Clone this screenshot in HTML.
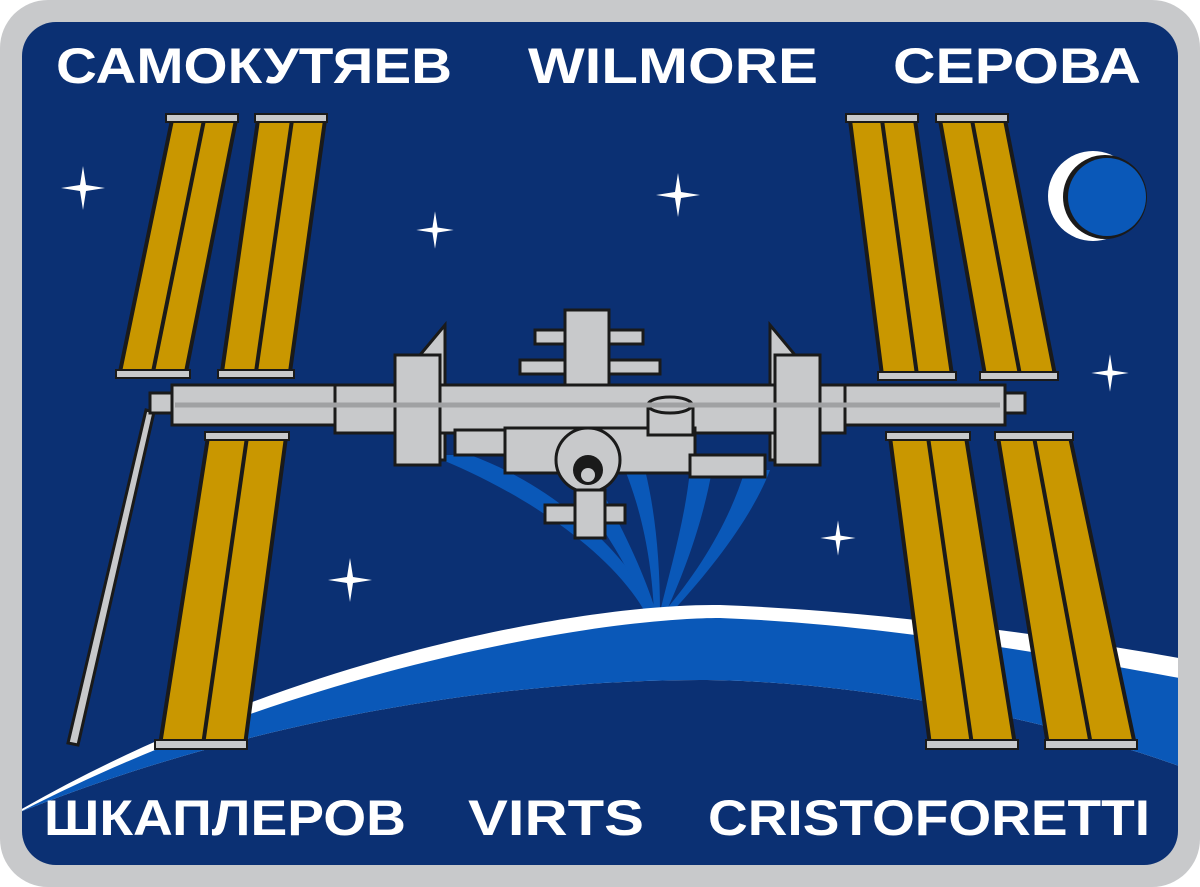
<!DOCTYPE html>
<html><head><meta charset="utf-8"><style>
html,body{margin:0;padding:0;background:#fff}
svg{display:block}
text{font-family:"Liberation Sans","DejaVu Sans",sans-serif;font-weight:bold;fill:#fff}
</style></head><body>
<svg width="1200" height="887" viewBox="0 0 1200 887" xmlns="http://www.w3.org/2000/svg">
<defs>
<clipPath id="inner"><rect x="22" y="22" width="1156" height="843" rx="34"/></clipPath>
<g id="star"><path d="M0,-22 L3,-3 L22,0 L3,3 L0,22 L-3,3 L-22,0 L-3,-3Z" fill="#fff"/></g>
</defs>
<rect x="0" y="0" width="1200" height="887" rx="48" fill="#c8c9cb"/>
<rect x="22" y="22" width="1156" height="843" rx="34" fill="#0b3073"/>
<g clip-path="url(#inner)">
<g fill="#0a58b8">
<path d="M430,455 C520,490 610,550 645,612 L655,612 C620,540 540,480 470,455Z"/>
<path d="M560,470 C600,520 630,570 648,612 L656,612 C640,560 610,505 590,470Z"/>
<path d="M625,470 C645,520 652,570 654,612 L660,612 C660,560 655,510 645,470Z"/>
<path d="M690,470 C685,520 670,570 660,612 L666,612 C690,560 705,510 712,470Z"/>
<path d="M745,470 C730,520 700,570 664,612 L672,612 C720,560 755,510 770,470Z"/>
</g>
<path d="M20,810 C300,650 600,603 720,605 C900,612 1080,640 1190,660 L1190,770 C1000,700 800,680 700,680 C500,680 250,720 20,812Z" fill="#fff"/>
<path d="M20,812 C300,668 600,618 720,618 C900,625 1080,660 1190,680 L1190,770 C1000,700 800,680 700,680 C500,680 250,720 20,812Z" fill="#0a58b8"/>
</g>
<use href="#star" x="83" y="188"/>
<use href="#star" transform="translate(435 230) scale(.85)"/>
<use href="#star" x="678" y="195"/>
<use href="#star" transform="translate(1110 373) scale(.85)"/>
<use href="#star" transform="translate(838 538) scale(.8)"/>
<use href="#star" x="350" y="580"/>
<circle cx="1093" cy="196" r="45" fill="#fff"/>
<circle cx="1105" cy="197" r="42" fill="#1a1a1a"/>
<circle cx="1107" cy="197" r="39" fill="#0a58b8"/>
<path d="M146,410 L154,412 L78,745 L68,743Z" fill="#c8c9cb" stroke="#1a1a1a" stroke-width="3"/>
<g stroke="#1a1a1a" stroke-width="4" fill="#c99700">
<path d="M172,120 L236,120 L186,372 L120,372Z"/>
<path d="M258,120 L325,120 L290,372 L222,372Z"/>
<path d="M208,437 L286,437 L245,745 L160,745Z"/>
<path d="M850,120 L915,120 L952,375 L882,375Z"/>
<path d="M940,120 L1005,120 L1055,375 L985,375Z"/>
<path d="M890,437 L966,437 L1015,745 L930,745Z"/>
<path d="M998,437 L1070,437 L1135,745 L1048,745Z"/>
</g>
<g stroke="#1a1a1a" stroke-width="4">
<line x1="204" y1="120" x2="153" y2="372"/><line x1="292" y1="120" x2="256" y2="372"/>
<line x1="247" y1="437" x2="203" y2="745"/><line x1="882" y1="120" x2="917" y2="375"/>
<line x1="972" y1="120" x2="1020" y2="375"/><line x1="928" y1="437" x2="972" y2="745"/>
<line x1="1034" y1="437" x2="1091" y2="745"/>
</g>
<g fill="#c8c9cb" stroke="#1a1a1a" stroke-width="2">
<rect x="166" y="114" width="72" height="8"/><rect x="255" y="114" width="72" height="8"/>
<rect x="116" y="370" width="74" height="8"/><rect x="218" y="370" width="76" height="8"/>
<rect x="205" y="432" width="84" height="8"/><rect x="155" y="740" width="92" height="9"/>
<rect x="846" y="114" width="72" height="8"/><rect x="936" y="114" width="72" height="8"/>
<rect x="878" y="372" width="78" height="8"/><rect x="980" y="372" width="78" height="8"/>
<rect x="886" y="432" width="84" height="8"/><rect x="995" y="432" width="78" height="8"/>
<rect x="926" y="740" width="92" height="9"/><rect x="1045" y="740" width="92" height="9"/>
</g>
<g fill="#c8c9cb" stroke="#1a1a1a" stroke-width="3">
<path d="M420,355 L445,325 L445,460 L420,460Z"/>
<path d="M770,325 L795,355 L795,460 L770,460Z"/>
<rect x="535" y="330" width="108" height="14"/>
<rect x="520" y="360" width="140" height="14"/>
<rect x="565" y="310" width="44" height="80"/>
<rect x="150" y="393" width="25" height="20"/>
<rect x="1000" y="393" width="25" height="20"/>
<rect x="172" y="385" width="165" height="40"/>
<rect x="335" y="385" width="510" height="48"/>
<rect x="845" y="385" width="160" height="40"/>
<rect x="395" y="355" width="45" height="110"/>
<rect x="775" y="355" width="45" height="110"/>
<rect x="455" y="430" width="55" height="25"/>
<rect x="505" y="428" width="190" height="45"/>
<rect x="690" y="455" width="75" height="22"/>
<circle cx="588" cy="460" r="32"/>
<rect x="648" y="405" width="45" height="30"/>
<ellipse cx="670" cy="405" rx="22" ry="8"/>
<rect x="545" y="505" width="80" height="18"/>
<rect x="575" y="490" width="30" height="48"/>
</g>
<circle cx="588" cy="470" r="15" fill="#1a1a1a"/>
<circle cx="588" cy="475" r="7" fill="#c8c9cb"/>
<line x1="175" y1="405" x2="1000" y2="405" stroke="#a0a1a3" stroke-width="5"/>
<text x="56" y="83" font-size="50" textLength="396" lengthAdjust="spacingAndGlyphs">САМОКУТЯЕВ</text>
<text x="528" y="83" font-size="50" textLength="290" lengthAdjust="spacingAndGlyphs">WILMORE</text>
<text x="893" y="83" font-size="50" textLength="248" lengthAdjust="spacingAndGlyphs">СЕРОВА</text>
<text x="44" y="835" font-size="50" textLength="362" lengthAdjust="spacingAndGlyphs">ШКАПЛЕРОВ</text>
<text x="468" y="835" font-size="50" textLength="176" lengthAdjust="spacingAndGlyphs">VIRTS</text>
<text x="708" y="835" font-size="50" textLength="442" lengthAdjust="spacingAndGlyphs">CRISTOFORETTI</text>
</svg>
</body></html>
